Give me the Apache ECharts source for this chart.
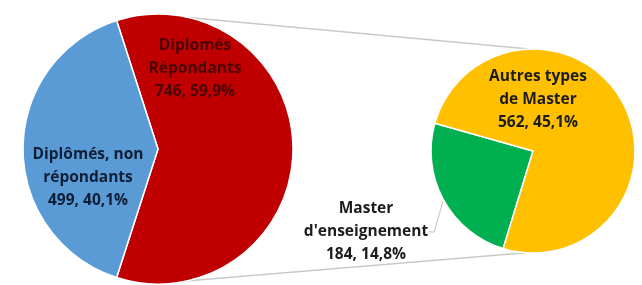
<!DOCTYPE html>
<html>
<head>
<meta charset="utf-8">
<script src="https://cdn.jsdelivr.net/npm/echarts@6/dist/echarts.min.js"></script>
<style>
  html, body { margin: 0; padding: 0; background: #fff; }
  #chart { width: 642px; height: 285px; }
</style>
</head>
<body>
<div id="chart"></div>
<script>
// pie principal
var mainNames = ['Diplomés\nRépondants', 'Diplômés, non\nrépondants'];
var mainValues = [746, 499];
var mainColors = ['#C00000', '#5B9BD5'];
var mainText = ['#4a0404', '#0e1e36'];

// pie secondaire (détail des répondants)
var subNames = ['Master\nd\'enseignement', 'Autres types\nde Master'];
var subValues = [184, 562];
var subColors = ['#00B050', '#FFC000'];

var total = mainValues[0] + mainValues[1];

var leftC = [158, 149], leftR = 135;
var rightC = [533, 151], rightR = 102;

// positions des étiquettes
var mainLabelPos = [[195, 69], [88, 178]];
var subLabelPos = [[366, 232], [538, 100]];

function pct(v) {
  return (v / total * 100).toFixed(1).replace('.', ',') + '%';
}

var myChart = echarts.init(document.getElementById('chart'));

var blueAngle = 360 * mainValues[1] / total;

function pt(c, r, deg) {
  var a = deg * Math.PI / 180;
  return [c[0] + r * Math.cos(a), c[1] - r * Math.sin(a)];
}

var t1 = pt(leftC, leftR, 77), t2 = pt(rightC, rightR, 92);
var b1 = pt(leftC, leftR, -78), b2 = pt(rightC, rightR, -94);

var option = {
  animation: false,
  textStyle: { fontFamily: 'Open Sans' },
  graphic: [
    { type: 'line', shape: { x1: t1[0], y1: t1[1], x2: t2[0], y2: t2[1] }, style: { stroke: '#c9c9c9', lineWidth: 1.5 }, z: -1 },
    { type: 'line', shape: { x1: b1[0], y1: b1[1], x2: b2[0], y2: b2[1] }, style: { stroke: '#c9c9c9', lineWidth: 1.5 }, z: -1 }
  ],
  series: [
    {
      type: 'pie',
      center: leftC,
      radius: leftR,
      startAngle: 180 - blueAngle / 2,
      clockwise: true,
      silent: true,
      itemStyle: { borderColor: '#fff', borderWidth: 1.5 },
      label: {
        show: true,
        position: 'inside',
        fontWeight: 'bold',
        fontSize: 15.5,
        lineHeight: 23,
        formatter: function (p) { return p.name + '\n' + p.value + ', ' + pct(p.value); }
      },
      labelLine: { show: false },
      labelLayout: function (p) {
        return { x: mainLabelPos[p.dataIndex][0], y: mainLabelPos[p.dataIndex][1], align: 'center', verticalAlign: 'middle' };
      },
      data: mainValues.map(function (v, i) {
        return { name: mainNames[i], value: v, itemStyle: { color: mainColors[i] }, label: { color: mainText[i] } };
      })
    },
    {
      type: 'pie',
      center: rightC,
      radius: rightR,
      startAngle: 253,
      clockwise: true,
      silent: true,
      itemStyle: { borderColor: '#fff', borderWidth: 1.5 },
      label: {
        show: true,
        fontWeight: 'bold',
        fontSize: 15.5,
        lineHeight: 23,
        color: '#1c1c1c',
        formatter: function (p) { return p.name + '\n' + p.value + ', ' + pct(p.value); }
      },
      labelLine: { lineStyle: { color: '#bfbfbf', width: 1 }, length: 6, length2: 6 },
      labelLayout: function (p) {
        return { x: subLabelPos[p.dataIndex][0], y: subLabelPos[p.dataIndex][1], align: 'center', verticalAlign: 'middle' };
      },
      data: subValues.map(function (v, i) {
        return {
          name: subNames[i], value: v, itemStyle: { color: subColors[i] },
          label: i === 1 ? { position: 'inside' } : { position: 'outside' },
          labelLine: { show: i === 0 }
        };
      })
    }
  ]
};

myChart.setOption(option);
</script>
</body>
</html>
